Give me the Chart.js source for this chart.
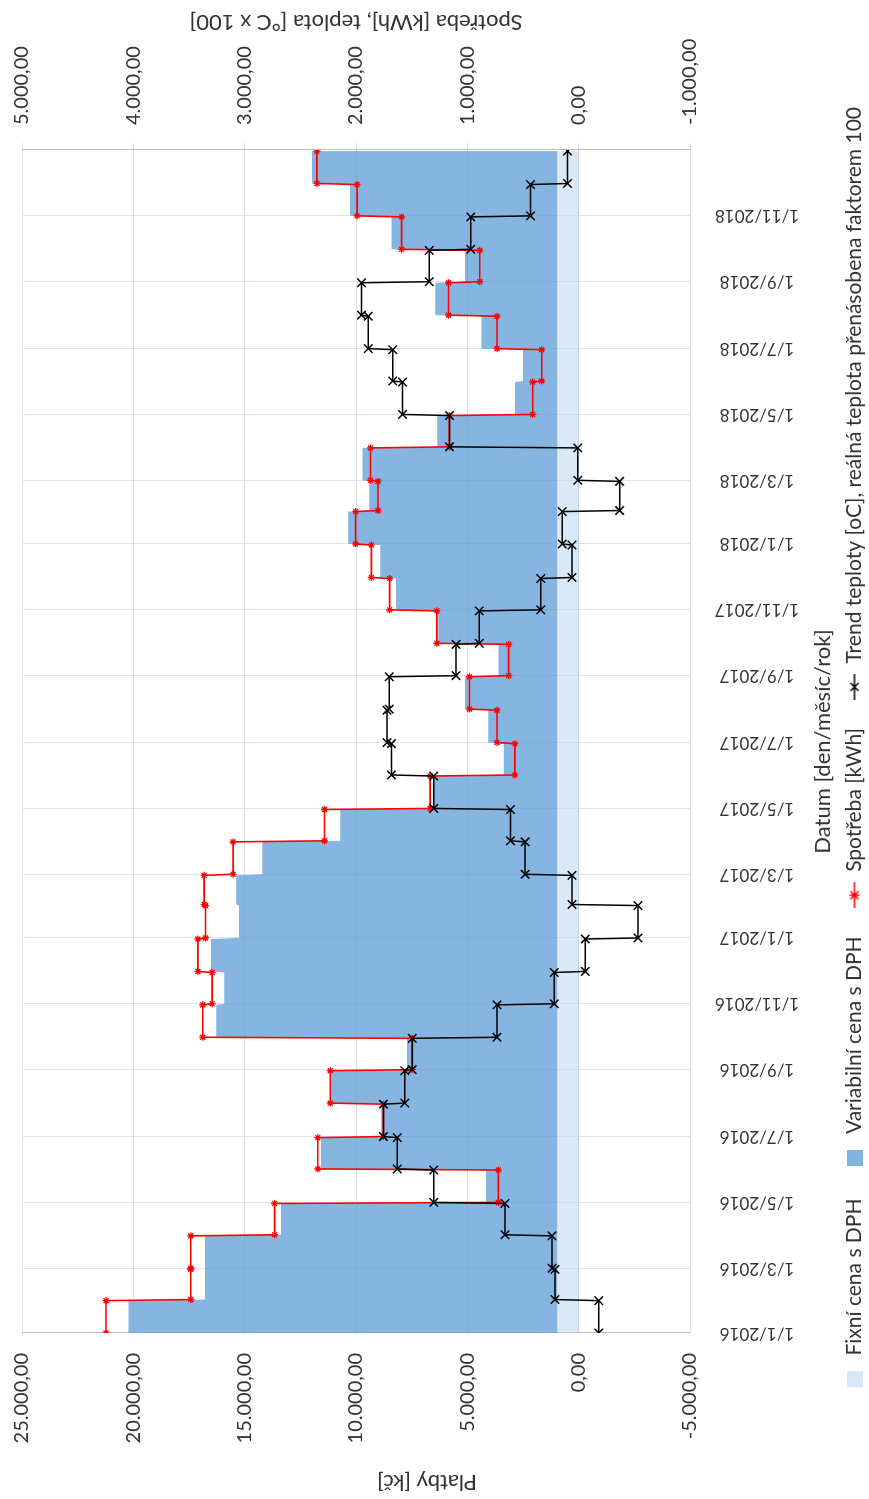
<!DOCTYPE html>
<html>
<head>
<meta charset="utf-8">
<script src="https://cdn.jsdelivr.net/npm/chart.js@4.4.1/dist/chart.umd.min.js"></script>
<style>
html, body { margin: 0; padding: 0; background: #fff; overflow: hidden; }
#wrap { position: absolute; left: 0; top: 0; width: 1499px; height: 869px;
        transform-origin: 0 0; transform: translate(0, 1499px) rotate(-90deg); }
</style>
</head>
<body>
<div id="wrap"><canvas id="chart" width="1499" height="869"></canvas></div>
<script>
// mesice (rok-mesic), kazdy mesic je jeden schod
const months = [
  '2016-01','2016-02','2016-03','2016-04','2016-05','2016-06','2016-07','2016-08','2016-09','2016-10','2016-11','2016-12',
  '2017-01','2017-02','2017-03','2017-04','2017-05','2017-06','2017-07','2017-08','2017-09','2017-10','2017-11','2017-12',
  '2018-01','2018-02','2018-03','2018-04','2018-05','2018-06','2018-07','2018-08','2018-09','2018-10','2018-11','2018-12'
];
// Kc
const fixniCena = [
  961, 961, 961, 961, 961, 961, 961, 961, 961, 961, 961, 961,
  961, 961, 961, 961, 961, 961, 961, 961, 961, 961, 961, 961,
  961, 961, 961, 961, 961, 961, 961, 961, 961, 961, 961, 961
];
const variabilniCena = [
  19259, 15816, 15816, 12412, 3203, 10611, 7908, 10150, 6747, 15315, 14955, 15556,
  14294, 14415, 13253, 9750, 5546, 2402, 3103, 4144, 2643, 5345, 7247, 7948,
  9389, 8448, 8749, 5385, 1902, 1542, 3403, 5485, 4144, 7447, 9309, 11011
];
// kWh
const spotreba = [
  4245, 3484, 3484, 2731, 721, 2343, 1754, 2231, 1494, 3376, 3292, 3420,
  3352, 3364, 3104, 2283, 1334, 573, 733, 981, 629, 1274, 1698, 1862,
  2003, 1802, 1870, 1161, 413, 332, 733, 1169, 889, 1590, 1990, 2351
];
// oC x 100
const teplota = [
  -180, 212, 240, 661, 1302, 1630, 1754, 1562, 1494, 733, 220, -60,
  -533, 60, 481, 613, 1302, 1682, 1722, 1702, 1101, 893, 340, 60,
  148, -368, 8, 1161, 1582, 1670, 1890, 1950, 1342, 969, 433, 100
];
const dateTicks = [
  '1/1/2016','1/3/2016','1/5/2016','1/7/2016','1/9/2016','1/11/2016',
  '1/1/2017','1/3/2017','1/5/2017','1/7/2017','1/9/2017','1/11/2017',
  '1/1/2018','1/3/2018','1/5/2018','1/7/2018','1/9/2018','1/11/2018'
];
const platbyTicks = [-5000, 0, 5000, 10000, 15000, 20000, 25000];
const spotrebaTicks = [-1000, 0, 1000, 2000, 3000, 4000, 5000];

const T0 = Date.UTC(2016, 0, 1);
function dayOf(y, m, d) { return (Date.UTC(y, m - 1, d) - T0) / 86400000; }
function steps(values) {
  const pts = [];
  months.forEach((mo, i) => {
    const [y, m] = mo.split('-').map(Number);
    pts.push({ x: dayOf(y, m, 1), y: values[i] });
    pts.push({ x: dayOf(y, m + 1, 1) - 1, y: values[i] });
  });
  return pts;
}
const tickDays = dateTicks.map(t => { const [d, m, y] = t.split('/').map(Number); return dayOf(y, m, d); });
const celkem = variabilniCena.map((v, i) => v + fixniCena[i]);

function fmt(v) {
  const p = Math.abs(v).toFixed(2).split('.');
  return (v < 0 ? '-' : '') + p[0].replace(/\B(?=(\d{3})+(?!\d))/g, '.') + ',' + p[1];
}

function iconSquare(color) {
  const c = document.createElement('canvas'); c.width = 16; c.height = 16;
  const g = c.getContext('2d'); g.fillStyle = color; g.fillRect(0, 0, 16, 16);
  return c;
}
function iconLine(color, star) {
  const c = document.createElement('canvas'); c.width = 26; c.height = 14;
  const g = c.getContext('2d');
  g.strokeStyle = color; g.lineWidth = 1.5;
  g.beginPath(); g.moveTo(0, 7); g.lineTo(26, 7);
  g.moveTo(9, 3); g.lineTo(17, 11); g.moveTo(17, 3); g.lineTo(9, 11);
  if (star) { g.moveTo(13, 2); g.lineTo(13, 12); }
  g.stroke();
  return c;
}
const legendIcons = [iconSquare('#dae8f5'), iconSquare('#80b4dd'), iconLine('#ff0000', true), iconLine('#000000', false)];

const gridColor = '#dde3ec';
const textColor = '#333333';

const textPlugin = {
  id: 'texty',
  afterDraw(chart) {
    const ctx = chart.ctx, xs = chart.scales.x, a = chart.chartArea;
    ctx.save();
    ctx.fillStyle = textColor;
    ctx.textAlign = 'center';
    ctx.textBaseline = 'middle';
    ctx.font = '17px Lato';
    dateTicks.forEach((t, i) => {
      ctx.save();
      ctx.translate(xs.getPixelForValue(tickDays[i]), 757);
      ctx.rotate(-Math.PI / 2);
      ctx.fillText(t, 0, 0);
      ctx.restore();
    });
    ctx.font = '22px Lato';
    ctx.fillText('Datum [den/měsíc/rok]', (a.left + a.right) / 2, 823);
    const rot = (txt, x, y) => { ctx.save(); ctx.translate(x, y); ctx.rotate(-Math.PI / 2); ctx.fillText(txt, 0, 0); ctx.restore(); };
    rot('Platby [kč]', 17, 427);
    rot('Spotřeba [kWh], teplota [°C x 100]', 1477, (a.top + a.bottom) / 2);
    ctx.restore();
  }
};

function fitY(width) {
  return s => { s.width = width; s.paddingTop = 0; s.paddingBottom = 0; };
}

new Chart(document.getElementById('chart'), {
  type: 'line',
  data: {
    datasets: [
      { label: 'Fixní cena s DPH', data: steps(fixniCena), yAxisID: 'yL', order: 3,
        backgroundColor: 'rgba(189,215,238,0.55)', borderWidth: 0, pointRadius: 0, fill: 'origin' },
      { label: 'Variabilní cena s DPH', data: steps(celkem), yAxisID: 'yL', order: 2,
        backgroundColor: 'rgba(91,155,213,0.74)', borderWidth: 0, pointRadius: 0, fill: '-1' },
      { label: 'Spotřeba [kWh]', data: steps(spotreba), yAxisID: 'yR', order: 1,
        borderColor: '#ff0000', borderWidth: 1.6, pointStyle: 'star', pointRadius: 3.5,
        pointBorderColor: '#ff0000', pointBorderWidth: 1.3, fill: false },
      { label: 'Trend teploty [oC], reálná teplota přenásobena faktorem 100', data: steps(teplota), yAxisID: 'yR', order: 0,
        borderColor: '#000000', borderWidth: 1.5, pointStyle: 'crossRot', pointRadius: 6,
        pointBorderColor: '#000000', pointBorderWidth: 1.5, fill: false }
    ]
  },
  options: {
    responsive: false,
    animation: false,
    events: [],
    layout: { padding: { top: 22, left: 0, right: 0, bottom: -6 } },
    scales: {
      x: {
        type: 'linear', min: 0, max: 1096,
        afterBuildTicks: s => { s.ticks = tickDays.map(v => ({ value: v })); },
        afterFit: s => { s.height = 126; },
        ticks: { display: false, autoSkip: false },
        grid: { color: gridColor, drawTicks: false },
        border: { display: false }
      },
      yL: {
        position: 'left', min: platbyTicks[0], max: platbyTicks[platbyTicks.length - 1],
        afterFit: fitY(166),
        ticks: { stepSize: platbyTicks[1] - platbyTicks[0], padding: 20, color: textColor,
                 font: { family: 'Lato', size: 20 }, callback: v => fmt(v) },
        grid: { color: c => c.tick && c.tick.value === 0 ? '#c3c9d1' : gridColor, drawTicks: false },
        border: { display: true, color: '#bfbfbf' }
      },
      yR: {
        position: 'right', min: spotrebaTicks[0], max: spotrebaTicks[spotrebaTicks.length - 1],
        afterFit: fitY(150),
        ticks: { stepSize: spotrebaTicks[1] - spotrebaTicks[0], padding: 18, color: textColor,
                 font: { family: 'Lato', size: 20 }, callback: v => fmt(v) },
        grid: { drawOnChartArea: false, color: gridColor, tickLength: 7 },
        border: { display: true, color: '#bfbfbf' }
      }
    },
    plugins: {
      tooltip: { enabled: false },
      legend: {
        position: 'bottom',
        labels: {
          usePointStyle: true, pointStyleWidth: 26, padding: 28, color: textColor,
          font: { family: 'Lato', size: 21 },
          sort: (a, b) => a.datasetIndex - b.datasetIndex,
          generateLabels(chart) {
            const items = Chart.defaults.plugins.legend.labels.generateLabels(chart);
            items.forEach(it => { it.pointStyle = legendIcons[it.datasetIndex]; });
            return items;
          }
        }
      }
    }
  },
  plugins: [textPlugin]
});
</script>
</body>
</html>
